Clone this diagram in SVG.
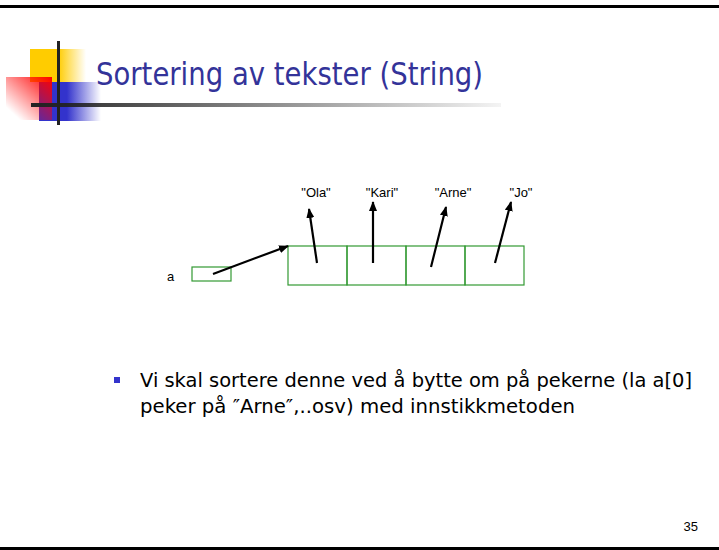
<svg xmlns="http://www.w3.org/2000/svg" width="719" height="550" viewBox="0 0 719 550">
<style>
.title{font-family:"DejaVu Sans","Liberation Sans",sans-serif;font-size:32px;fill:#333399}
.lbl{font-family:"Liberation Sans",Arial,sans-serif;font-size:13px;fill:#000}
.body{font-family:"DejaVu Sans","Liberation Sans",sans-serif;font-size:19.5px;fill:#000}
.cell{fill:none;stroke:#339933;stroke-width:1.2}
.ptr{stroke:#000;stroke-width:2.2;fill:none;marker-end:url(#ah)}
</style>
<defs>
<marker id="ah" markerWidth="10" markerHeight="8" refX="9" refY="4" orient="auto" markerUnits="userSpaceOnUse">
<path d="M0,0 L10,4 L0,8 Z" fill="#000"/>
</marker>
<linearGradient id="gy" x1="0" y1="0" x2="1" y2="0">
<stop offset="0.5" stop-color="#ffcc00"/><stop offset="1" stop-color="#ffcc00" stop-opacity="0"/>
</linearGradient>
<linearGradient id="gb" x1="0" y1="0" x2="1" y2="0">
<stop offset="0.45" stop-color="#3333cc"/><stop offset="1" stop-color="#3333cc" stop-opacity="0"/>
</linearGradient>
<linearGradient id="gr" x1="1" y1="0" x2="0" y2="1">
<stop offset="0" stop-color="#ff0000"/><stop offset="0.85" stop-color="#ff0000" stop-opacity="0"/>
</linearGradient>
<linearGradient id="gl" x1="0" y1="0" x2="1" y2="0">
<stop offset="0" stop-color="#222"/><stop offset="1" stop-color="#222" stop-opacity="0.05"/>
</linearGradient>
</defs>
<rect width="719" height="550" fill="#fff"/>
<rect x="0" y="5" width="719" height="3" fill="#000"/>
<rect x="0" y="547" width="719" height="3" fill="#000"/>
<g id="logo">
<rect x="30" y="49" width="56" height="33" fill="url(#gy)"/>
<rect x="39" y="82" width="62" height="39" fill="url(#gb)"/>
<rect x="6" y="77" width="46" height="43" fill="url(#gr)"/>
<rect x="57" y="41" width="3" height="84" fill="#222"/>
<rect x="31" y="103" width="470" height="4" fill="url(#gl)"/>
</g>
<text id="title" class="title" x="96" y="85" textLength="387" lengthAdjust="spacingAndGlyphs">Sortering av tekster (String)</text>
<g id="labels">
<text class="lbl" x="316" y="197" text-anchor="middle">"Ola"</text>
<text class="lbl" x="382" y="197" text-anchor="middle">"Kari"</text>
<text class="lbl" x="453" y="197" text-anchor="middle">"Arne"</text>
<text class="lbl" x="521" y="197" text-anchor="middle">"Jo"</text>
</g>
<g id="var-a">
<text class="lbl" x="167" y="281">a</text>
<rect class="cell" x="192" y="267" width="39" height="14"/>
</g>
<g id="array">
<rect class="cell" x="288" y="246" width="59" height="39"/>
<rect class="cell" x="347" y="246" width="59" height="39"/>
<rect class="cell" x="406" y="246" width="59" height="39"/>
<rect class="cell" x="465" y="246" width="59" height="39"/>
</g>
<g id="connectors">
<line class="ptr" x1="213" y1="274" x2="288" y2="246"/>
<line class="ptr" x1="317" y1="263" x2="309" y2="209"/>
<line class="ptr" x1="373" y1="263" x2="373" y2="202"/>
<line class="ptr" x1="431" y1="267" x2="446" y2="207"/>
<line class="ptr" x1="495" y1="263" x2="511" y2="202"/>
</g>
<g id="bullet">
<rect x="114" y="377" width="6" height="6" fill="#3333cc"/>
<text class="body" x="140" y="387" textLength="552" lengthAdjust="spacingAndGlyphs">Vi skal sortere denne ved å bytte om på pekerne (la a[0]</text>
<text class="body" x="140" y="413" textLength="435" lengthAdjust="spacingAndGlyphs">peker på ″Arne″,..osv) med innstikkmetoden</text>
</g>
<text id="page" class="lbl" x="698" y="531" text-anchor="end" font-size="12">35</text>
</svg>
